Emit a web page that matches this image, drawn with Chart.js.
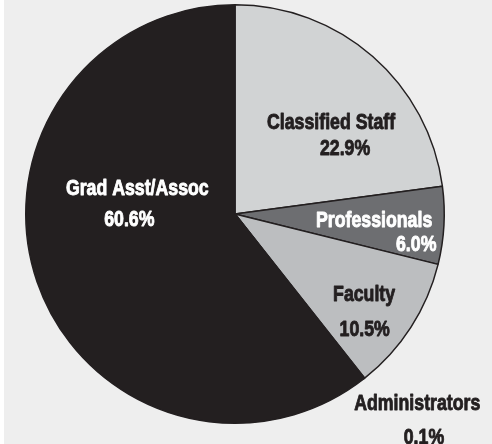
<!DOCTYPE html>
<html><head><meta charset="utf-8">
<script src="https://cdn.jsdelivr.net/npm/chart.js@4.4.1/dist/chart.umd.min.js"></script>
<style>
html,body{margin:0;padding:0;background:#ffffff;}
#wrap{position:absolute;left:4px;top:0;width:488px;height:444px;background:#eeeeee;overflow:hidden;}
canvas{display:block;}
</style></head><body>
<div id="wrap"><canvas id="c" width="488" height="444"></canvas></div>
<script>
const categories = ['Classified Staff', 'Professionals', 'Faculty', 'Administrators', 'Grad Asst/Assoc'];
const shares = [22.9, 6.0, 10.5, 0.1, 60.6];
const sliceColors = ['#d1d3d4', '#6d6e71', '#bcbec0', '#939598', '#231f20'];
const labelColors = ['#231f20', '#ffffff', '#231f20', '#231f20', '#ffffff'];
// label placement: [nameX, nameBaseY, pctX, pctBaseY] as fractions of the radius from pie centre
const labelLayout = [
  [0.459, -0.404, 0.526, -0.282],
  [0.665, 0.060, 0.866, 0.177],
  [0.617, 0.414, 0.620, 0.581],
  [0.871, 0.938, 0.903, 1.098],
  [-0.467, -0.091, -0.505, 0.057]
];

const FONT = 'bold 21.5px "Liberation Sans", Arial, sans-serif';

const labelPlugin = {
  id: 'sliceLabels',
  afterDatasetsDraw(chart) {
    const ctx = chart.ctx;
    const meta = chart.getDatasetMeta(0);
    ctx.save();
    ctx.font = FONT;
    const sx = Math.min(1, 128 / ctx.measureText('Classified Staff').width);
    ctx.textAlign = 'center';
    ctx.textBaseline = 'alphabetic';
    ctx.lineJoin = 'round';
    meta.data.forEach((arc, i) => {
      const p = arc.getProps(['x', 'y', 'outerRadius'], true);
      const r = p.outerRadius;
      const L = labelLayout[i];
      const lines = [
        [categories[i], L[0], L[1]],
        [shares[i].toFixed(1) + '%', L[2], L[3]]
      ];
      ctx.fillStyle = labelColors[i];
      ctx.strokeStyle = labelColors[i];
      lines.forEach(([t, fx, fy]) => {
        ctx.save();
        ctx.translate(p.x + fx * r, p.y + fy * r);
        ctx.scale(sx, 1);
        ctx.lineWidth = 0.9;
        ctx.fillText(t, 0, 0);
        ctx.strokeText(t, 0, 0);
        ctx.restore();
      });
    });
    ctx.restore();
  }
};

new Chart(document.getElementById('c'), {
  type: 'pie',
  data: {
    labels: categories,
    datasets: [{
      data: shares,
      backgroundColor: sliceColors,
      borderColor: '#231f20',
      borderWidth: 1.5,
      hoverBorderWidth: 1.5,
      hoverOffset: 0
    }]
  },
  options: {
    responsive: false,
    animation: false,
    events: [],
    layout: { padding: { left: 21, right: 47, top: 4, bottom: 20 } },
    plugins: { legend: { display: false }, tooltip: { enabled: false } }
  },
  plugins: [labelPlugin]
});
</script>
</body></html>
